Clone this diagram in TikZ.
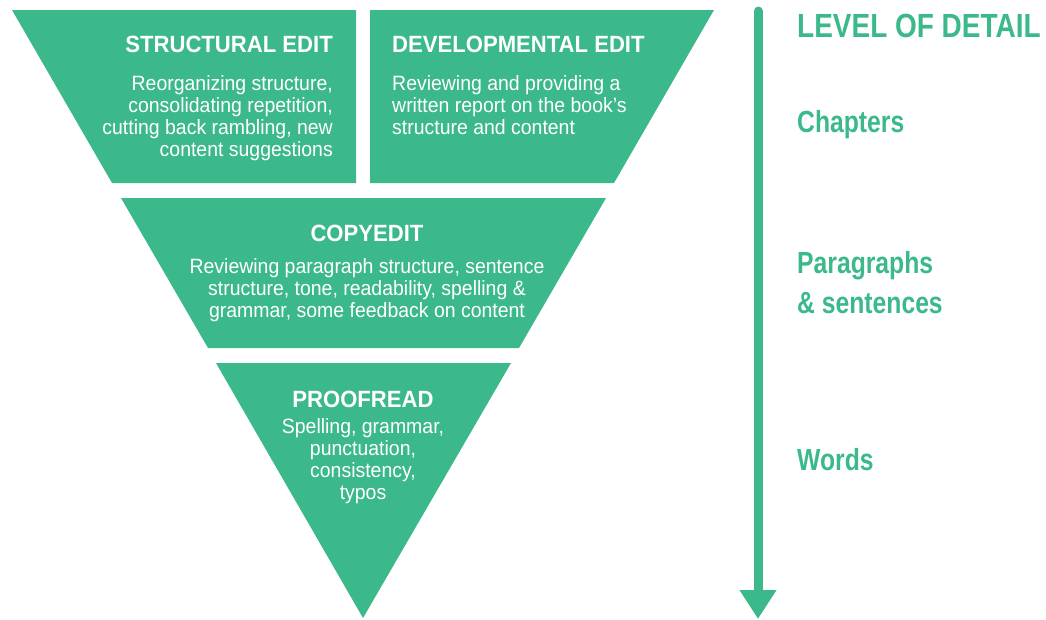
\documentclass[tikz,border=0pt]{standalone}
\usepackage{fontspec}
\setmainfont{Liberation Sans}[FakeStretch=0.94]
\newfontfamily\sidefont{Liberation Sans}[FakeStretch=0.81]
\newfontfamily\headfont{Liberation Sans}[FakeStretch=0.835]
\usetikzlibrary{positioning,arrows.meta}
\definecolor{edgreen}{HTML}{3BB98A}
\newcommand{\blocktitle}[1]{{\fontsize{23.5}{22}\selectfont\bfseries #1}}
\tikzset{level/.style={fill=edgreen,draw=none}}
\tikzset{blocktext/.style={text=white,inner sep=0pt,font=\fontsize{20.7}{22}\selectfont}}
\tikzset{sidelabel/.style={text=edgreen,inner sep=0pt,anchor=base west,font=\sidefont\bfseries\fontsize{30.5}{40}\selectfont}}

\begin{document}
\begin{tikzpicture}[x=1pt,y=-1pt]
        \useasboundingbox (0,0) rectangle (1046,619);

        % the four levels of the funnel
        \fill[level] (12,10) -- (356,10) -- (356,183) -- (112,183) -- cycle;
        \fill[level] (370,10) -- (714,10) -- (614,183) -- (370,183) -- cycle;
        \fill[level] (121,198) -- (606,198) -- (519,348) -- (208,348) -- cycle;
        \fill[level] (216,363) -- (511,363) -- (363,618) -- cycle;

        \node[blocktext,anchor=base east] (structural) at (333,52)
            {\begin{tabular}[t]{@{}r@{}}\blocktitle{STRUCTURAL EDIT}\\[16pt]
            Reorganizing structure,\\ consolidating repetition,\\
            cutting back rambling, new\\ content suggestions\end{tabular}};
        \node[blocktext,anchor=base west] (developmental) at (392,52)
            {\begin{tabular}[t]{@{}l@{}}\blocktitle{DEVELOPMENTAL EDIT}\\[16pt]
            Reviewing and providing a\\ written report on the book's\\
            structure and content\end{tabular}};
        \node[blocktext,anchor=base] (copyedit) at (367,241)
            {\begin{tabular}[t]{@{}c@{}}\blocktitle{COPYEDIT}\\[10pt]
            Reviewing paragraph structure, sentence\\
            structure, tone, readability, spelling \&\\
            grammar, some feedback on content\end{tabular}};
        \node[blocktext,anchor=base] (proofread) at (363,407)
            {\begin{tabular}[t]{@{}c@{}}\blocktitle{PROOFREAD}\\[4pt]
            Spelling, grammar,\\ punctuation,\\ consistency,\\ typos\end{tabular}};

        % level of detail scale
        \coordinate (scaletop) at (758,11);
        \coordinate (scaletip) at (758,619);
        \draw[edgreen,line width=9pt,line cap=round,-{Triangle[width=35pt,length=29pt]}] (scaletop) -- (scaletip);

        \node[sidelabel,font=\headfont\bfseries\fontsize{33.5}{40}\selectfont] (detail) at (797,37) {LEVEL OF DETAIL};
        \node[sidelabel] (chapters) at (797,132) {Chapters};
        \node[sidelabel] (paragraphs) at (797,273)
            {\begin{tabular}[t]{@{}l@{}}Paragraphs\\ \& sentences\end{tabular}};
        \node[sidelabel] (words) at (797,470) {Words};
    \end{tikzpicture}
\end{document}
